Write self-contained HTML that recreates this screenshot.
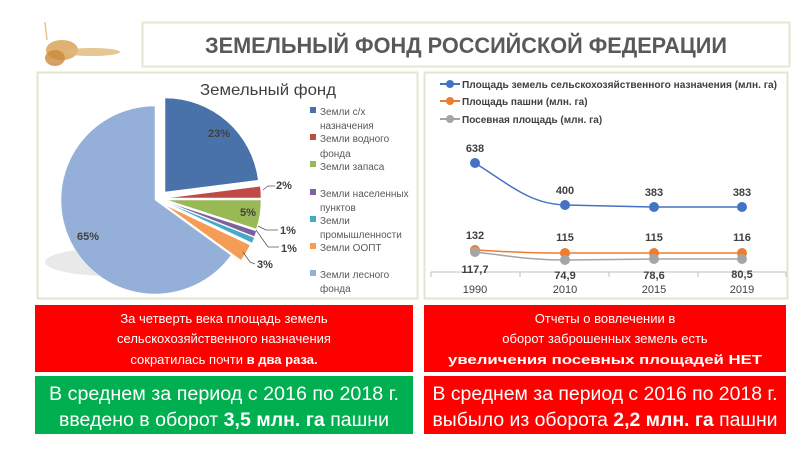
<!DOCTYPE html>
<html><head><meta charset="utf-8"><style>
body{margin:0;background:#fff;}
svg{display:block;font-family:"Liberation Sans","DejaVu Sans",sans-serif;}
</style></head><body>
<svg width="799" height="454" viewBox="0 0 799 454" xmlns="http://www.w3.org/2000/svg">
<rect width="799" height="454" fill="#fff"/>
<g>
<ellipse cx="62" cy="50" rx="16" ry="10" fill="#d9a55a" opacity="0.85"/>
<ellipse cx="92" cy="52" rx="28" ry="4" fill="#e0b878" opacity="0.8"/>
<ellipse cx="55" cy="58" rx="10" ry="8" fill="#c88a3c" opacity="0.8"/>
<line x1="45" y1="22" x2="47" y2="40" stroke="#e5c48a" stroke-width="1.5"/>
</g>
<rect x="142.5" y="22.5" width="647" height="44" fill="#fff" stroke="#e2ead2" stroke-width="2"/>
<text x="205" y="53" font-size="22" font-weight="bold" fill="#595959" textLength="522" lengthAdjust="spacingAndGlyphs">ЗЕМЕЛЬНЫЙ ФОНД РОССИЙСКОЙ ФЕДЕРАЦИИ</text>
<rect x="37.5" y="72.5" width="380" height="226" fill="#fff" stroke="#dfe8cf" stroke-width="2"/>
<text x="200" y="95" font-size="16" fill="#404040" textLength="136" lengthAdjust="spacingAndGlyphs">Земельный фонд</text>
<ellipse cx="110" cy="262" rx="65" ry="14" fill="#d4d4d4" opacity="0.5"/>
<g id="pie"></g>
<g font-size="11" font-weight="bold" fill="#404040">
<text x="208" y="137">23%</text>
<text x="276" y="189">2%</text>
<text x="240" y="216">5%</text>
<text x="280" y="234">1%</text>
<text x="281" y="252">1%</text>
<text x="257" y="268">3%</text>
<text x="77" y="240">65%</text>
</g>
<g stroke="#595959" stroke-width="0.8" fill="none">
<polyline points="263,190 268,186 275,186"/>
<polyline points="258,226 266,230 278,230"/>
<polyline points="256,230 268,247 279,247"/>
<polyline points="243,252 250,262 255,264"/>
</g>
<g font-size="10" fill="#595959">
<rect x="310" y="107" width="6" height="6" fill="#4a72aa"/><text x="320" y="115">Земли с/х</text><text x="320" y="129">назначения</text>
<rect x="310" y="134" width="6" height="6" fill="#be4b48"/><text x="320" y="142">Земли водного</text><text x="320" y="157">фонда</text>
<rect x="310" y="161" width="6" height="6" fill="#98b954"/><text x="320" y="170">Земли запаса</text>
<rect x="310" y="189" width="6" height="6" fill="#7d60a0"/><text x="320" y="197">Земли населенных</text><text x="320" y="211">пунктов</text>
<rect x="310" y="216" width="6" height="6" fill="#46aac5"/><text x="320" y="224">Земли</text><text x="320" y="238">промышленности</text>
<rect x="310" y="243" width="6" height="6" fill="#f59d56"/><text x="320" y="251">Земли ООПТ</text>
<rect x="310" y="270" width="6" height="6" fill="#95b0d8"/><text x="320" y="278">Земли лесного</text><text x="320" y="292">фонда</text>
</g>
<rect x="424.5" y="72.5" width="363" height="226" fill="#fff" stroke="#dfe8cf" stroke-width="2"/>
<g font-size="10" font-weight="bold" fill="#404040">
<line x1="440" y1="84" x2="460" y2="84" stroke="#4472c4" stroke-width="2"/><circle cx="450" cy="84" r="4" fill="#4472c4"/>
<text x="462" y="88" textLength="315" lengthAdjust="spacingAndGlyphs">Площадь земель сельскохозяйственного назначения (млн. га)</text>
<line x1="440" y1="101" x2="460" y2="101" stroke="#ed7d31" stroke-width="2"/><circle cx="450" cy="101" r="4" fill="#ed7d31"/>
<text x="462" y="105">Площадь пашни (млн. га)</text>
<line x1="440" y1="119" x2="460" y2="119" stroke="#a5a5a5" stroke-width="2"/><circle cx="450" cy="119" r="4" fill="#a5a5a5"/>
<text x="462" y="123">Посевная площадь (млн. га)</text>
</g>
<line x1="431" y1="272" x2="786" y2="272" stroke="#bfbfbf"/>
<g stroke="#bfbfbf"><line x1="431" y1="272" x2="431" y2="277"/><line x1="520" y1="272" x2="520" y2="277"/><line x1="609" y1="272" x2="609" y2="277"/><line x1="698" y1="272" x2="698" y2="277"/><line x1="786" y1="272" x2="786" y2="277"/></g>
<path d="M475,163 C510,185 530,204 565,205 L654,207 L742,207" fill="none" stroke="#4472c4" stroke-width="1.5"/>
<path d="M475,250 C510,252 530,253 565,253 L742,253" fill="none" stroke="#ed7d31" stroke-width="1.5"/>
<path d="M475,252 C510,256 530,260 565,260 L654,259 L742,259" fill="none" stroke="#a5a5a5" stroke-width="1.5"/>
<g fill="#4472c4"><circle cx="475" cy="163" r="5"/><circle cx="565" cy="205" r="5"/><circle cx="654" cy="207" r="5"/><circle cx="742" cy="207" r="5"/></g>
<g fill="#ed7d31"><circle cx="475" cy="250" r="5"/><circle cx="565" cy="253" r="5"/><circle cx="654" cy="253" r="5"/><circle cx="742" cy="253" r="5"/></g>
<g fill="#a5a5a5"><circle cx="475" cy="252" r="5"/><circle cx="565" cy="260" r="5"/><circle cx="654" cy="259" r="5"/><circle cx="742" cy="259" r="5"/></g>
<g font-size="11" font-weight="bold" fill="#404040" text-anchor="middle">
<text x="475" y="152">638</text><text x="565" y="194">400</text><text x="654" y="196">383</text><text x="742" y="196">383</text>
<text x="475" y="239">132</text><text x="565" y="241">115</text><text x="654" y="241">115</text><text x="742" y="241">116</text>
<text x="475" y="273">117,7</text><text x="565" y="279">74,9</text><text x="654" y="279">78,6</text><text x="742" y="278">80,5</text>
</g>
<g font-size="11" fill="#404040" text-anchor="middle">
<text x="475" y="293">1990</text><text x="565" y="293">2010</text><text x="654" y="293">2015</text><text x="742" y="293">2019</text>
</g>
<rect x="35" y="305" width="378" height="67" fill="#fe0000"/>
<rect x="35" y="376" width="378" height="58" fill="#00b050"/>
<rect x="424" y="305" width="362" height="67" fill="#fe0000"/>
<rect x="424" y="376" width="362" height="58" fill="#fe0000"/>
<g fill="#fff" text-anchor="middle" font-size="13">
<text x="224" y="323">За четверть века площадь земель</text>
<text x="224" y="343">сельскохозяйственного назначения</text>
<text x="224" y="364">сократилась почти <tspan font-weight="bold">в два раза.</tspan></text>
<text x="605" y="323">Отчеты о вовлечении в</text>
<text x="605" y="343">оборот заброшенных земель есть</text>
<text x="605" y="364" font-weight="bold" textLength="314" lengthAdjust="spacingAndGlyphs">увеличения посевных площадей НЕТ</text>
</g>
<g fill="#fff" text-anchor="middle" font-size="19">
<text x="224" y="400" textLength="350" lengthAdjust="spacingAndGlyphs">В среднем за период с 2016 по 2018 г.</text>
<text x="224" y="426" textLength="330" lengthAdjust="spacingAndGlyphs">введено в оборот <tspan font-weight="bold">3,5 млн. га</tspan> пашни</text>
<text x="605" y="400" textLength="345" lengthAdjust="spacingAndGlyphs">В среднем за период с 2016 по 2018 г.</text>
<text x="605" y="426" textLength="345" lengthAdjust="spacingAndGlyphs">выбыло из оборота <tspan font-weight="bold">2,2 млн. га</tspan> пашни</text>
</g>
</svg>
<script>
(function(){
var g=document.getElementById('pie');
var s=[[0,82.8,'#4a72aa',10,-8],[82.8,90,'#be4b48',12,-2],[90,108,'#98b954',12,0],[108,111.6,'#7d60a0',12,2],[111.6,115.2,'#46aac5',12,3],[115.2,126,'#f59d56',10,5],[126,360,'#95b0d8',0,0]];
var cx=155,cy=200,r=94;
s.forEach(function(a){
 var x=cx+a[3],y=cy+a[4];
 function p(d){var t=d*Math.PI/180;return [x+r*Math.sin(t),y-r*Math.cos(t)];}
 var p1=p(a[0]),p2=p(a[1]),large=(a[1]-a[0])>180?1:0;
 var e=document.createElementNS('http://www.w3.org/2000/svg','path');
 e.setAttribute('d','M'+x+','+y+' L'+p1[0]+','+p1[1]+' A'+r+','+r+' 0 '+large+' 1 '+p2[0]+','+p2[1]+' Z');
 e.setAttribute('fill',a[2]);e.setAttribute('stroke','#fff');e.setAttribute('stroke-width','0.5');
 g.appendChild(e);
});
})();
</script>
</body></html>
